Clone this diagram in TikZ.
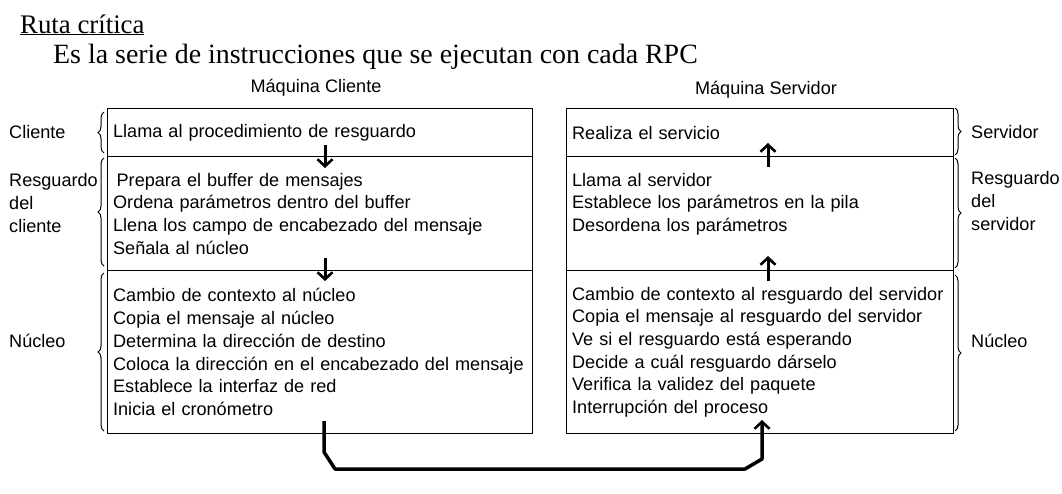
\documentclass[tikz,border=0pt]{standalone}
\usepackage{fontspec}
\setmainfont{Liberation Serif}
\setsansfont{Liberation Sans}
\usetikzlibrary{arrows.meta,decorations.pathreplacing}

\begin{document}
\begin{tikzpicture}[
    x=1pt, y=-1pt,
    sect/.style={rectangle, draw=black, line width=1.3pt, inner xsep=4pt, inner ysep=0pt,
                 align=left, anchor=north west, font=\sffamily\fontsize{18.1}{22.7}\selectfont},
    clientsect/.style={sect, minimum width=425pt, text width=417pt},
    serversect/.style={sect, minimum width=387pt, text width=379pt},
    sidelabel/.style={align=left, inner sep=0pt, font=\sffamily\fontsize{18.1}{22.7}\selectfont},
    machine/.style={inner sep=0pt, font=\sffamily\fontsize{18.1}{22}\selectfont},
    heading/.style={anchor=base west, inner sep=0pt, font=\fontsize{26.8}{30}\selectfont},
    bracel/.style={decorate, decoration={brace, amplitude=6pt}, line width=1pt},
    arrow/.style={line width=3pt, -{Straight Barb[length=7pt, width=15pt, line width=2.6pt]}},
    link/.style={line width=3.5pt, line join=round, -{Straight Barb[length=7pt, width=15pt, line width=2.6pt]}}
]
\useasboundingbox (0,0) rectangle (1062,493);

% Heading
\node[heading] (title) at (20,33) {\underline{Ruta crítica}};
\node[heading, font=\fontsize{27.9}{30}\selectfont] (intro) at (53,63) {Es la serie de instrucciones que se ejecutan con cada RPC};

% Machine titles
\node[machine] (mclient) at (316,88) {Máquina Cliente};
\node[machine] (mserver) at (766,90) {Máquina Servidor};

% Client machine
\node[clientsect, minimum height=48pt] (cli) at (107,108) {\hspace*{1.5pt}Llama al procedimiento de resguardo};
\node[clientsect, minimum height=114pt] (cstub) at (107,156)
    {\hspace*{5pt}Prepara el buffer de mensajes\\\hspace*{1.5pt}Ordena parámetros dentro del buffer\\
     \hspace*{1.5pt}Llena los campo de encabezado del mensaje\\\hspace*{1.5pt}Señala al núcleo};
\node[clientsect, minimum height=163pt] (ckern) at (107,270)
    {\hspace*{1.5pt}Cambio de contexto al núcleo\\\hspace*{1.5pt}Copia el mensaje al núcleo\\
     \hspace*{1.5pt}Determina la dirección de destino\\\hspace*{1.5pt}Coloca la dirección en el encabezado del mensaje\\
     \hspace*{1.5pt}Establece la interfaz de red\\\hspace*{1.5pt}Inicia el cronómetro};

% Server machine
\node[serversect, minimum height=48pt] (srv) at (566,108) {\hspace*{1.5pt}Realiza el servicio};
\node[serversect, minimum height=114pt] (sstub) at (566,156)
    {\hspace*{1.5pt}Llama al servidor\\\hspace*{1.5pt}Establece los parámetros en la pila\\
     \hspace*{1.5pt}Desordena los parámetros\\ \mbox{}};
\node[serversect, minimum height=163pt] (skern) at (566,270)
    {\hspace*{1.5pt}Cambio de contexto al resguardo del servidor\\\hspace*{1.5pt}Copia el mensaje al resguardo del servidor\\
     \hspace*{1.5pt}Ve si el resguardo está esperando\\\hspace*{1.5pt}Decide a cuál resguardo dárselo\\
     \hspace*{1.5pt}Verifica la validez del paquete\\\hspace*{1.5pt}Interrupción del proceso};

% Left labels
\node[sidelabel, anchor=west] (lcli) at (9,132) {Cliente};
\node[sidelabel, anchor=west] (lcstub) at (9,203) {Resguardo\\del\\cliente};
\node[sidelabel, anchor=west] (lckern) at (9,341) {Núcleo};

% Right labels
\node[sidelabel, anchor=west] (lsrv) at (971,132) {Servidor};
\node[sidelabel, anchor=west] (lsstub) at (971,201) {Resguardo\\del\\servidor};
\node[sidelabel, anchor=west] (lskern) at (971,341) {Núcleo};

% Braces
\draw[bracel] (104,153) -- (104,112);
\draw[bracel] (104,266) -- (104,158);
\draw[bracel] (104,431) -- (104,273);
\draw[bracel] (955,108) -- (955,155);
\draw[bracel] (955,158) -- (955,268);
\draw[bracel] (955,275) -- (955,431);

% Arrow ends
\coordinate (c1a) at (325,145);
\coordinate (c1b) at (325,168);
\coordinate (c2a) at (325,258);
\coordinate (c2b) at (325,281);
\coordinate (s1a) at (768,167);
\coordinate (s1b) at (768,143);
\coordinate (s2a) at (768,281);
\coordinate (s2b) at (768,256);
\coordinate (out) at (324,421);
\coordinate (in) at (762,420);

% Path through the layers
\draw[arrow] (c1a) -- (c1b);
\draw[arrow] (c2a) -- (c2b);
\draw[arrow] (s2a) -- (s2b);
\draw[arrow] (s1a) -- (s1b);

% Network between machines
\draw[link] (out) -- (324,452) -- (335,469) -- (745,469) -- (762,459) -- (in);

\end{tikzpicture}
\end{document}
